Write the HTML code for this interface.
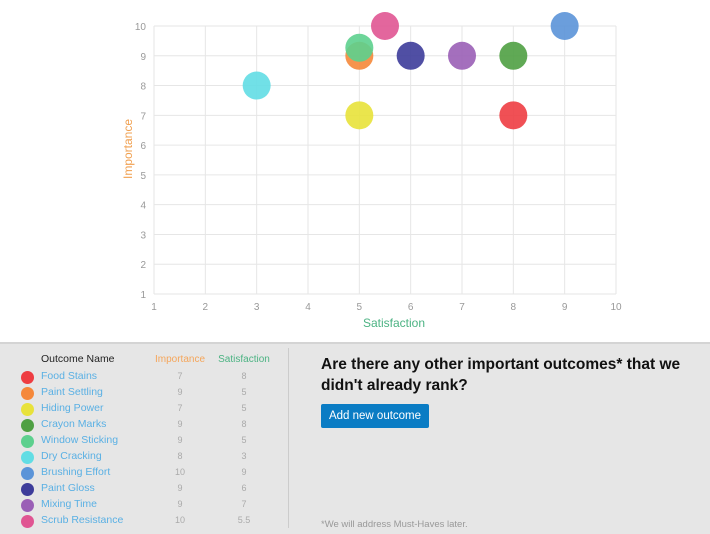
<!DOCTYPE html>
<html><head><meta charset="utf-8"><style>
body{margin:0;width:710px;height:534px;overflow:hidden;background:#fff;font-family:"Liberation Sans",sans-serif;position:relative}
#bottom{position:absolute;left:0;top:342px;width:710px;height:192px;background:#e6e6e6;border-top:2px solid #d4d4d4;box-sizing:border-box}
.row{position:absolute;left:0;height:16px;font-size:10.5px;width:290px}
.dot{position:absolute;left:21px;top:2px;width:13px;height:13px;border-radius:50%}
.nm{position:absolute;left:41px;top:1px;color:#5ab0e4}
.c1{position:absolute;left:160px;width:40px;text-align:center;top:2px;color:#aaa;font-size:9px}
.c2{position:absolute;left:224px;width:40px;text-align:center;top:2px;color:#aaa;font-size:9px}
</style></head><body>
<svg id="chart" width="710" height="342" style="position:absolute;left:0;top:0"></svg>
<div id="bottom">
 <div style="position:absolute;left:288px;top:4px;width:1px;height:180px;background:#ccc"></div>
 <div id="table">
  <div class="row" style="top:8px"><span class="nm" style="color:#222">Outcome Name</span><span class="c1" style="color:#f5a65b;font-size:10px;left:155px;width:50px">Importance</span><span class="c2" style="color:#4cb383;font-size:10px;left:214px;width:60px">Satisfaction</span></div>
 </div>
 <div style="position:absolute;left:321px;top:10px;width:385px;font-size:15.5px;font-weight:bold;color:#111;line-height:21px">Are there any other important outcomes* that we didn't already rank?</div>
 <div style="position:absolute;left:321px;top:60px;width:108px;height:24px;background:#0a7cc4;border-radius:2px;color:#fff;font-size:11.5px;line-height:24px;text-align:center">Add new outcome</div>
 <div style="position:absolute;left:321px;top:175px;font-size:9.5px;color:#999">*We will address Must-Haves later.</div>
</div>
<script>
const names=["Food Stains","Paint Settling","Hiding Power","Crayon Marks","Window Sticking","Dry Cracking","Brushing Effort","Paint Gloss","Mixing Time","Scrub Resistance"];
const importance=[7,9,7,9,9,8,10,9,9,10];
const satisfaction=[8,5,5,8,5,3,9,6,7,5.5];
const colors=["#ee3d42","#f5883a","#e8e23a","#4fa043","#5dd08e","#62dde4","#5b94d8","#3d3c9a","#9a5fb6","#e05592"];
const xTicks=[1,2,3,4,5,6,7,8,9,10];
const yTicks=[1,2,3,4,5,6,7,8,9,10];
const NS="http://www.w3.org/2000/svg";
const svg=document.getElementById('chart');
const X=v=>154+(v-1)*(616-154)/9, Y=v=>294-(v-1)*(294-26)/9;
function mk(t,a,p){const e=document.createElementNS(NS,t);for(const k in a)e.setAttribute(k,a[k]);(p||svg).appendChild(e);return e;}
xTicks.forEach(t=>{const l=mk('line',{x1:X(t),x2:X(t),y1:Y(10),y2:Y(1),stroke:'#e6e6e6'});

const s=mk('text',{x:X(t),y:310,'text-anchor':'middle','font-size':10,fill:'#999'});s.textContent=t;
});
yTicks.forEach(t=>{const l=mk('line',{x1:X(1),x2:X(10),y1:Y(t),y2:Y(t),stroke:'#e6e6e6'});

const s=mk('text',{x:146,y:Y(t)+4,'text-anchor':'end','font-size':10,fill:'#999'});s.textContent=t;
});
let xt=mk('text',{x:394,y:327,'text-anchor':'middle','font-size':12,fill:'#4cb383'});xt.textContent='Satisfaction';

let yt=mk('text',{x:0,y:0,transform:'translate(132,149) rotate(-90)','text-anchor':'middle','font-size':12,fill:'#f0a050'});yt.textContent='Importance';

const order=[0,1,2,3,5,6,7,8,9,4];
order.forEach(i=>{const c=mk('circle',{cx:X(satisfaction[i]),cy:Y(importance[i])-(i===4?8:0),r:14,fill:colors[i],opacity:0.9});
});
const tb=document.getElementById('table');
names.forEach((n,i)=>{const r=document.createElement('div');r.className='row';r.style.top=(25+i*16)+'px';

r.innerHTML='<span class="dot" style="background:'+colors[i]+'"></span><span class="nm">'+n+'</span><span class="c1">'+importance[i]+'</span><span class="c2">'+satisfaction[i]+'</span>';
tb.appendChild(r);});
</script>
</body></html>
